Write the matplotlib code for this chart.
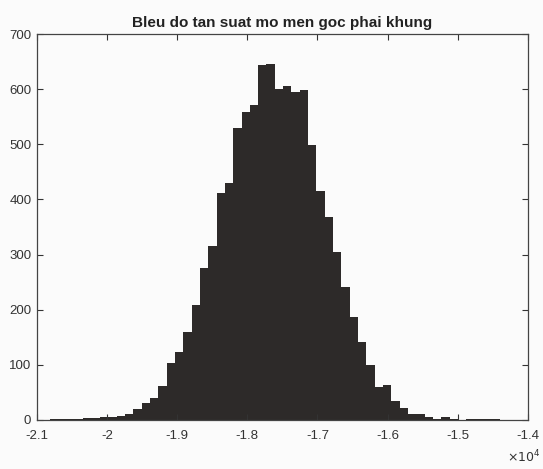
# histogram of frame corner moment (scanned MATLAB figure)
import numpy as np
import matplotlib
matplotlib.use("Agg")
import matplotlib.pyplot as plt
from matplotlib.ticker import FuncFormatter

# bin layout (data units)
first_edge = -20815.0
bin_width = 118.8

# counts per bin, left to right
counts = [1, 1, 2, 2, 3, 3, 5, 6, 7, 11,
          20, 31, 39, 61, 103, 123, 159, 208, 276, 316,
          412, 430, 530, 559, 571, 643, 646, 600, 606, 594,
          599, 499, 416, 368, 304, 242, 187, 141, 100, 59,
          63, 34, 22, 11, 10, 5, 2, 5, 1, 0,
          1, 1, 1, 1]

x_ticks = [-21000, -20000, -19000, -18000, -17000, -16000, -15000, -14000]
y_ticks = [0, 100, 200, 300, 400, 500, 600, 700]
title = "Bleu do tan suat mo men goc phai khung"

plt.rcParams['font.family'] = ['Liberation Sans', 'DejaVu Sans']

fig = plt.figure(figsize=(5.43, 4.69), dpi=100, facecolor='#fbfbfb')
ax = fig.add_axes([0.068, 0.1045, 0.904, 0.823])
ax.set_facecolor('#fbfbfb')

edges = first_edge + bin_width * np.arange(len(counts) + 1)
ax.stairs(counts, edges, fill=True, color='#2d2a29')

ax.set_xlim(-21000, -14000)
ax.set_ylim(0, 700)
ax.set_xticks(x_ticks)
ax.set_yticks(y_ticks)
ax.xaxis.set_major_formatter(FuncFormatter(lambda v, p: f"{v / 1e4:g}"))
ax.tick_params(direction='in', length=4, width=0.8, top=True, right=True,
               labelsize=9.5, colors='#333333')
ax.tick_params(axis='x', pad=7)
ax.tick_params(axis='y', pad=4)
for s in ax.spines.values():
    s.set_color('#444444')
    s.set_linewidth(0.9)

ax.set_title(title, fontsize=11, fontweight='bold', color='#222222', pad=5)
fig.text(0.995, 0.008, r'$\times10^4$', ha='right', va='bottom',
         fontsize=9, color='#333333')

fig.savefig("out.png", dpi=100, facecolor=fig.get_facecolor())
